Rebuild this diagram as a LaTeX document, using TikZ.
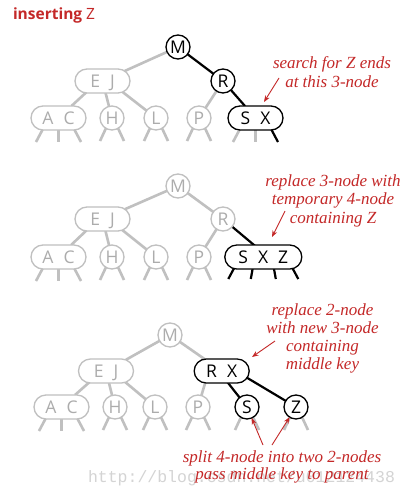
\documentclass[tikz,border=0pt]{standalone}
\usepackage{fontspec}
\newfontfamily\nodefont{Open Sans}
\newfontfamily\wmfont{Liberation Mono}
\newfontfamily\annfont{Liberation Serif}
\usetikzlibrary{arrows.meta,calc,backgrounds,shapes.misc}
\definecolor{redtxt}{RGB}{196,40,40}
\definecolor{gstroke}{RGB}{192,192,192}
\definecolor{gtext}{RGB}{172,172,172}
\definecolor{wmgray}{RGB}{212,212,212}
\newcommand\circstubs[2]{%
  \draw[#2] ($(#1)+(-5,8)$) -- ++(-7,15);
  \draw[#2] ($(#1)+(5,8)$) -- ++(7,15);}
\newcommand\pillstubs[4]{%
  \draw[#2] ($(#1)+(-14,8)$) -- ++(-8.5,16);
  \draw[#3] ($(#1)+(0,8)$) -- ++(0,16);
  \draw[#4] ($(#1)+(14,8)$) -- ++(8.5,16);}
\begin{document}
\begin{tikzpicture}[x=1pt,y=-1pt,
  every node/.style={inner sep=0pt,outer sep=0pt},
  keyfont/.style={font=\nodefont\fontsize{17.5}{17.5}\selectfont,text height=12.5pt,text depth=0pt},
  bnode/.style={draw=black,line width=1.3pt,fill=white,text=black,keyfont},
  gnode/.style={draw=gstroke,line width=1.3pt,fill=white,text=gtext,keyfont},
  circ/.style={circle,minimum size=24pt},
  pilltwo/.style={rounded rectangle,minimum width=55pt,minimum height=24pt},
  pillthree/.style={rounded rectangle,minimum width=77pt,minimum height=24pt},
  bedge/.style={draw=black,line width=2.2pt},
  gedge/.style={draw=gstroke,line width=2.6pt},
  ann/.style={anchor=base,text=redtxt,font=\annfont\itshape\fontsize{17}{17}\selectfont},
  arr/.style={draw=redtxt,line width=0.9pt,-{Stealth[length=6.5pt,width=5pt]}}]
\useasboundingbox (0,0) rectangle (409,498);

% title
\node[anchor=base west,text=redtxt,font=\nodefont\fontsize{15.5}{15.5}\selectfont] (title) at (13,19) {\bfseries inserting \mdseries Z};

% ---------- panel 1
\node[bnode,circ] (M1) at (178,47) {M};
\node[bnode,circ] (R1) at (223,81) {R};
\node[gnode,pilltwo] (EJ1) at (102.5,81) {E\hspace{10pt}J};
\node[gnode,pilltwo] (AC1) at (58.5,118) {A\hspace{10pt}C};
\node[gnode,circ] (H1) at (112,118) {H};
\node[gnode,circ] (L1) at (156,118) {L};
\node[gnode,circ] (P1) at (199,118) {P};
\node[bnode,pilltwo] (SX1) at (255.5,118) {S\hspace{10pt}X};

\node[ann] (t11) at (332,68) {search for Z ends};
\node[ann] (t12) at (332,87) {at this 3-node};
\coordinate (a1s) at (279,78);
\coordinate (a1e) at (264,102);
\draw[arr] (a1s) -- (a1e);

% ---------- panel 2
\node[gnode,circ] (M2) at (178,186) {M};
\node[gnode,circ] (R2) at (223,219) {R};
\node[gnode,pilltwo] (EJ2) at (102.5,219) {E\hspace{10pt}J};
\node[gnode,pilltwo] (AC2) at (58.5,257) {A\hspace{10pt}C};
\node[gnode,circ] (H2) at (112,257) {H};
\node[gnode,circ] (L2) at (156,257) {L};
\node[gnode,circ] (P2) at (199,257) {P};
\node[bnode,pillthree] (SXZ2) at (263.3,257) {S\hspace{10pt}X\hspace{10pt}Z};

\node[ann] (t21) at (333,186) {replace 3-node with};
\node[ann] (t22) at (333,204.5) {temporary 4-node};
\node[ann] (t23) at (333,223) {containing Z};
\coordinate (a2s) at (285,211);
\coordinate (a2e) at (272,237);
\draw[arr] (a2s) -- (a2e);

% ---------- panel 3
\node[gnode,circ] (M3) at (170,335) {M};
\node[gnode,pilltwo] (EJ3) at (106,371) {E\hspace{10pt}J};
\node[bnode,pilltwo] (RX3) at (221.7,371) {R\hspace{10pt}X};
\node[gnode,pilltwo] (AC3) at (61.5,407) {A\hspace{10pt}C};
\node[gnode,circ] (H3) at (115,407) {H};
\node[gnode,circ] (L3) at (155,407) {L};
\node[gnode,circ] (P3) at (198,407) {P};
\node[bnode,circ] (S3) at (247,407) {S};
\node[bnode,circ] (Z3) at (296,407) {Z};

\node[ann] (t31) at (322.5,315) {replace 2-node};
\node[ann] (t32) at (322.5,333) {with new 3-node};
\node[ann] (t33) at (322.5,351) {containing};
\node[ann] (t34) at (322.5,369) {middle key};
\coordinate (a3s) at (275,341);
\coordinate (a3e) at (252,357);
\draw[arr] (a3s) -- (a3e);

\node[anchor=base west,font=\wmfont\fontsize{16.5}{16.5}\selectfont,text=wmgray] (wm) at (88,482) {http://blog.csdn.net/u012124438};
\node[ann] (t35) at (282,462) {split 4-node into two 2-nodes};
\node[ann] (t36) at (282,479) {pass middle key to parent};
\coordinate (a4s) at (263,445);
\coordinate (a5s) at (272,445);
\draw[arr] (a4s) -- (S3);
\draw[arr] (a5s) -- (Z3);

% ---------- edges and stubs
\begin{scope}[on background layer]
\fill[white] (0,0) rectangle (409,498);
% panel 1
\draw[gedge] (M1) -- (EJ1);
\draw[bedge] (M1) -- (R1);
\draw[gedge] ($(EJ1)+(-4,0)$) -- (AC1);
\draw[gedge] (EJ1) -- (H1);
\draw[gedge] ($(EJ1)+(6,0)$) -- (L1);
\draw[gedge] (R1) -- (P1);
\draw[bedge] (R1) -- (SX1);
\pillstubs{AC1}{gedge}{gedge}{gedge}
\circstubs{H1}{gedge}
\circstubs{L1}{gedge}
\circstubs{P1}{gedge}
\pillstubs{SX1}{gedge}{gedge}{bedge}
% panel 2
\draw[gedge] (M2) -- (EJ2);
\draw[gedge] (M2) -- (R2);
\draw[gedge] ($(EJ2)+(-4,0)$) -- (AC2);
\draw[gedge] (EJ2) -- (H2);
\draw[gedge] ($(EJ2)+(6,0)$) -- (L2);
\draw[gedge] (R2) -- (P2);
\draw[bedge] (R2) -- ($(SXZ2)+(5,0)$);
\pillstubs{AC2}{gedge}{gedge}{gedge}
\circstubs{H2}{gedge}
\circstubs{L2}{gedge}
\circstubs{P2}{gedge}
\draw[bedge] ($(SXZ2)+(-27.5,8)$) -- ++(-7.5,14);
\draw[bedge] ($(SXZ2)+(-10,8)$) -- ++(-2.5,14);
\draw[bedge] ($(SXZ2)+(10,8)$) -- ++(2.5,14);
\draw[bedge] ($(SXZ2)+(27.5,8)$) -- ++(7.5,14);
% panel 3
\draw[gedge] (M3) -- (EJ3);
\draw[gedge] (M3) -- (RX3);
\draw[gedge] ($(EJ3)+(-4,0)$) -- (AC3);
\draw[gedge] (EJ3) -- (H3);
\draw[gedge] ($(EJ3)+(6,0)$) -- (L3);
\draw[gedge] ($(RX3)+(-13,0)$) -- (P3);
\draw[bedge] ($(RX3)+(-3,0)$) -- (S3);
\draw[bedge] ($(RX3)+(14,0)$) -- (Z3);
\pillstubs{AC3}{gedge}{gedge}{gedge}
\circstubs{H3}{gedge}
\circstubs{L3}{gedge}
\circstubs{P3}{gedge}
\circstubs{S3}{gedge}
\circstubs{Z3}{gedge}
\end{scope}
\end{tikzpicture}
\end{document}
